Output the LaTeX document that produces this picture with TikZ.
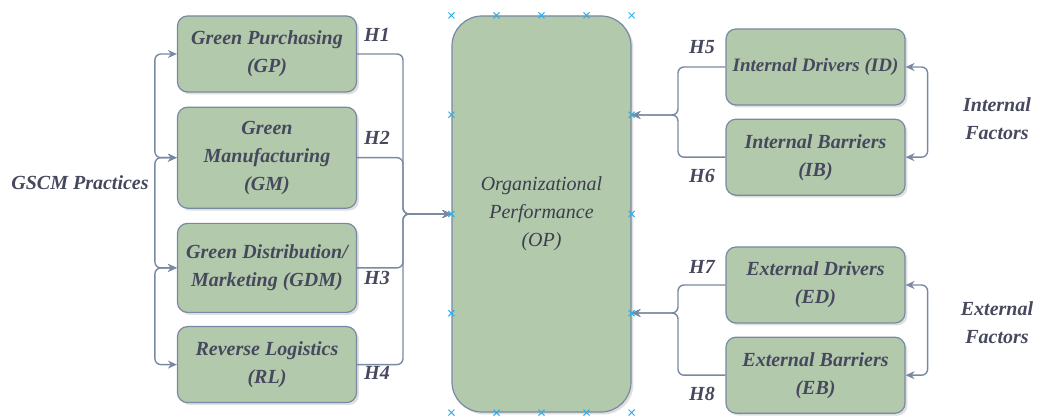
\documentclass[tikz,border=0pt]{standalone}
\usepackage{fontspec}
\setmainfont{Liberation Serif}
\usetikzlibrary{arrows.meta,positioning,calc,shadows}
\definecolor{sagefill}{HTML}{B2C9AB}
\definecolor{slatestroke}{HTML}{788AA3}
\definecolor{inktext}{HTML}{46495D}
\definecolor{handleblue}{HTML}{2FAEEA}
\tikzset{
  factor/.style={rectangle, rounded corners=5pt, draw=slatestroke, line width=0.6pt, fill=sagefill, text=inktext, minimum width=89.5pt, minimum height=38pt, align=center, font=\fontsize{10}{14}\selectfont\bfseries\itshape, drop shadow={shadow xshift=1.2pt, shadow yshift=-1.2pt, opacity=0.25}},
  outcome/.style={factor, rounded corners=15pt, minimum height=198pt, font=\fontsize{10}{14}\selectfont\itshape},
  hyp/.style={text=inktext, inner sep=0pt, font=\fontsize{10}{14}\selectfont\bfseries\itshape},
  grouplabel/.style={text=inktext, align=center, inner sep=0pt, font=\fontsize{10}{14}\selectfont\bfseries\itshape},
  link/.style={draw=slatestroke, line width=0.7pt, rounded corners=3pt, -{Stealth[length=4.5pt,width=4pt]}},
  twoway/.style={link, {Stealth[length=4.5pt,width=4pt]}-{Stealth[length=4.5pt,width=4pt]}},
  handle/.style={draw=handleblue, line width=0.5pt},
}

\begin{document}
\begin{tikzpicture}[x=0.5pt, y=-0.5pt]
  \useasboundingbox (0,0) rectangle (1039,416);

  % practices
  \node[factor] (gp) at (267,54) {Green Purchasing\\(GP)};
  \node[factor, minimum height=50.5pt, below=7pt of gp] (gm) {Green\\Manufacturing\\(GM)};
  \node[factor, minimum height=44.5pt, below=7pt of gm] (gdm) {Green Distribution/\\Marketing (GDM)};
  \node[factor, below=6.5pt of gdm] (rl) {Reverse Logistics\\(RL)};
  \node[grouplabel] (gscm) at (80,183) {GSCM Practices};

  % outcome
  \node[outcome, text=inktext!85!black] (op) at (541.5,214) {Organizational\\Performance\\(OP)};

  % drivers and barriers
  \node[factor, inner xsep=0pt, font=\fontsize{9.5}{14}\selectfont\bfseries\itshape] (id) at (815.5,67) {Internal Drivers (ID)};
  \node[factor, below=6.5pt of id] (ib) {Internal Barriers\\(IB)};
  \node[factor] (ed) at (815.5,285) {External Drivers\\(ED)};
  \node[factor, below=6.5pt of ed] (eb) {External Barriers\\(EB)};
  \node[grouplabel] (intf) at (997,119) {Internal\\Factors};
  \node[grouplabel] (extf) at (997,323) {External\\Factors};

  % hypotheses
  \node[hyp] (h1) at (377,35) {H1};
  \node[hyp] (h2) at (377,138) {H2};
  \node[hyp] (h3) at (377,278) {H3};
  \node[hyp] (h4) at (377,373) {H4};
  \node[hyp] (h5) at (702,47) {H5};
  \node[hyp] (h6) at (702,176) {H6};
  \node[hyp] (h7) at (702,267) {H7};
  \node[hyp] (h8) at (702,394) {H8};

  \coordinate (lhub) at (403,214);
  \coordinate (ihub) at (678,115);
  \coordinate (ehub) at (678,313);

  % links into OP
  \draw[link] (gp.east) -| (lhub) -- (op.west);
  \draw[link] (gm.east) -| (lhub) -- (op.west);
  \draw[link] (gdm.east) -| (lhub) -- (op.west);
  \draw[link] (rl.east) -| (lhub) -- (op.west);
  \draw[link] (id.west) -| (ihub) -- (op.east |- ihub);
  \draw[link] (ib.west) -| (ihub) -- (op.east |- ihub);
  \draw[link] (ed.west) -| (ehub) -- (op.east |- ehub);
  \draw[link] (eb.west) -| (ehub) -- (op.east |- ehub);

  % brackets between related boxes
  \draw[twoway] (gm.west) -- ++(-22,0) |- (gp.west);
  \draw[twoway] (gdm.west) -- ++(-22,0) |- (gm.west);
  \draw[twoway] (rl.west) -- ++(-22,0) |- (gdm.west);
  \draw[twoway] (id.east) -- ++(22,0) |- (ib.east);
  \draw[twoway] (ed.east) -- ++(22,0) |- (eb.east);

  % handles round OP
  \foreach \t in {0,0.25,0.5,0.75,1} {
    \draw[handle] ($(op.north west)!\t!(op.north east)$) +(-3,-3) -- +(3,3) +(-3,3) -- +(3,-3);
    \draw[handle] ($(op.south west)!\t!(op.south east)$) +(-3,-3) -- +(3,3) +(-3,3) -- +(3,-3);
  }
  \foreach \t in {0.25,0.5,0.75} {
    \draw[handle] ($(op.north west)!\t!(op.south west)$) +(-3,-3) -- +(3,3) +(-3,3) -- +(3,-3);
    \draw[handle] ($(op.north east)!\t!(op.south east)$) +(-3,-3) -- +(3,3) +(-3,3) -- +(3,-3);
  }
\end{tikzpicture}
\end{document}
